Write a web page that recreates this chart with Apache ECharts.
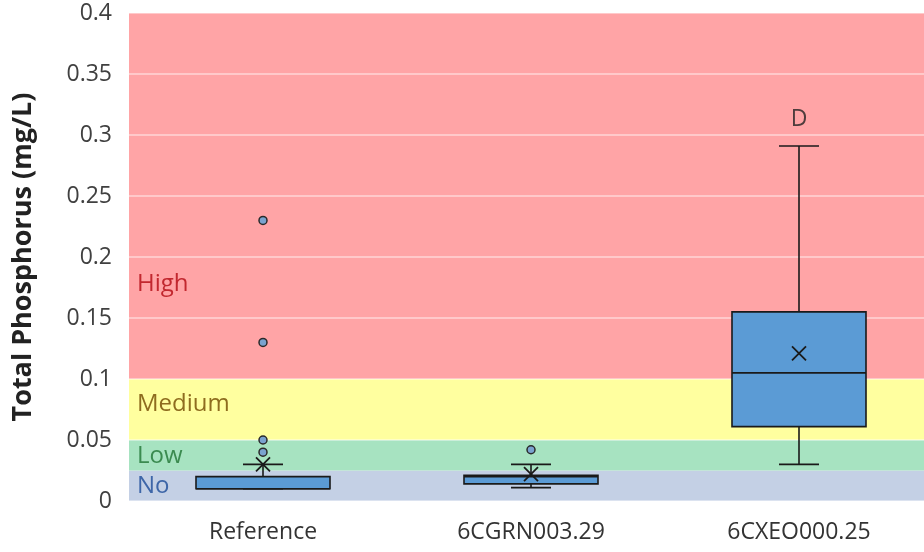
<!DOCTYPE html>
<html><head><meta charset="utf-8">
<script src="https://cdn.jsdelivr.net/npm/echarts@6/dist/echarts.min.js"></script>
<style>html,body{margin:0;padding:0;background:#fff}#c{width:924px;height:552px}</style>
</head><body><div id="c"></div>
<script>
const categories = ['Reference', '6CGRN003.29', '6CXEO000.25'];
const whiskerLow = [0.01, 0.011, 0.03];
const q1 = [0.01, 0.014, 0.061];
const median = [0.01, 0.02, 0.105];
const q3 = [0.02, 0.021, 0.155];
const whiskerHigh = [0.03, 0.03, 0.291];
const means = [0.03, 0.022, 0.121];
const outliers = [[0, 0.04], [0, 0.05], [0, 0.13], [0, 0.23], [1, 0.042]];
const letterValues = [[2, 0.313]];
const letterText = ['D'];
const bandNames = ['No', 'Low', 'Medium', 'High'];
const bandFrom = [0, 0.025, 0.05, 0.1];
const bandTo = [0.025, 0.05, 0.1, 0.4];
const bandLabelAt = [0.012, 0.037, 0.079, 0.178];
const bandColors = ['#C4D0E5', '#A7E3C1', '#FFFF9F', '#FFA4A6'];
const bandTextColors = ['#3E66A8', '#3B8B50', '#8E6C1F', '#C2282F'];
const yMin = 0, yMax = 0.4, yStep = 0.05;

const FONT = 'Open Sans';
const chart = echarts.init(document.getElementById('c'));

chart.setOption({
  animation: false,
  grid: { left: 129, right: -9, top: 13, bottom: 51, outerBoundsMode: 'none', containLabel: false },
  xAxis: {
    type: 'category', data: categories, boundaryGap: true,
    axisLine: { show: false }, axisTick: { show: false },
    axisLabel: { fontSize: 23, color: '#333', fontFamily: FONT, margin: 20 },
    splitLine: { show: false }
  },
  yAxis: {
    type: 'value', min: yMin, max: yMax, interval: yStep, z: 1,
    axisLine: { show: false }, axisTick: { show: false },
    axisLabel: { fontSize: 23, color: '#404040', fontFamily: FONT, margin: 17,
      formatter: v => String(parseFloat(v.toFixed(2))) },
    splitLine: { lineStyle: { color: 'rgba(255,255,255,0.55)', width: 1.5 } },
    name: 'Total Phosphorus (mg/L)', nameLocation: 'middle', nameGap: 92, nameRotate: 90,
    nameTextStyle: { fontSize: 27, fontWeight: 'bold', color: '#222', fontFamily: FONT }
  },
  series: [
    {
      type: 'custom', z: 0, silent: true,
      data: bandNames.map(() => [0, 0]),
      renderItem: (params, api) => {
        const i = params.dataIndex;
        const cs = params.coordSys;
        const yTop = api.coord([0, bandTo[i]])[1];
        const yBot = api.coord([0, bandFrom[i]])[1];
        const yLab = api.coord([0, bandLabelAt[i]])[1];
        return { type: 'group', children: [
          { type: 'rect', shape: { x: cs.x, y: yTop, width: cs.width, height: yBot - yTop },
            style: { fill: bandColors[i] } },
          { type: 'text', x: cs.x + 8, y: yLab,
            style: { text: bandNames[i], fill: bandTextColors[i], fontSize: 24, fontFamily: FONT,
              verticalAlign: 'middle', align: 'left' } }
        ] };
      }
    },
    {
      type: 'custom', z: 3,
      data: categories.map((c, i) => [i, median[i]]),
      renderItem: (params, api) => {
        const i = params.dataIndex;
        const cx = api.coord([i, median[i]])[0];
        const bw = api.size([1, 0])[0] * 0.5;
        const cap = 20;
        const y = v => api.coord([i, v])[1];
        const ls = { stroke: '#1a1a1a', lineWidth: 1.6 };
        const ym = y(means[i]);
        const m = 7;
        return { type: 'group', children: [
          { type: 'line', shape: { x1: cx, y1: y(q3[i]), x2: cx, y2: y(whiskerHigh[i]) }, style: ls },
          { type: 'line', shape: { x1: cx, y1: y(q1[i]), x2: cx, y2: y(whiskerLow[i]) }, style: ls },
          { type: 'line', shape: { x1: cx - cap, y1: y(whiskerHigh[i]), x2: cx + cap, y2: y(whiskerHigh[i]) }, style: ls },
          { type: 'line', shape: { x1: cx - cap, y1: y(whiskerLow[i]), x2: cx + cap, y2: y(whiskerLow[i]) }, style: ls },
          { type: 'rect', shape: { x: cx - bw / 2, y: y(q3[i]), width: bw, height: y(q1[i]) - y(q3[i]) },
            style: { fill: '#5B9BD5', stroke: '#1a1a1a', lineWidth: 1.6 } },
          { type: 'line', shape: { x1: cx - bw / 2, y1: y(median[i]), x2: cx + bw / 2, y2: y(median[i]) }, style: ls },
          { type: 'line', shape: { x1: cx - m, y1: ym - m, x2: cx + m, y2: ym + m }, style: { stroke: '#1a1a1a', lineWidth: 1.8 } },
          { type: 'line', shape: { x1: cx - m, y1: ym + m, x2: cx + m, y2: ym - m }, style: { stroke: '#1a1a1a', lineWidth: 1.8 } }
        ] };
      }
    },
    {
      type: 'scatter', z: 4, data: outliers, symbol: 'circle', symbolSize: 8,
      itemStyle: { color: '#7AA3CF', borderColor: '#2a2a2a', borderWidth: 1.5, opacity: 1 }
    },
    {
      type: 'scatter', z: 4, data: letterValues, symbolSize: 0,
      label: { show: true, position: 'inside', formatter: p => letterText[p.dataIndex],
        fontSize: 23, color: '#222', fontFamily: FONT }
    }
  ]
});
</script>
</body></html>
